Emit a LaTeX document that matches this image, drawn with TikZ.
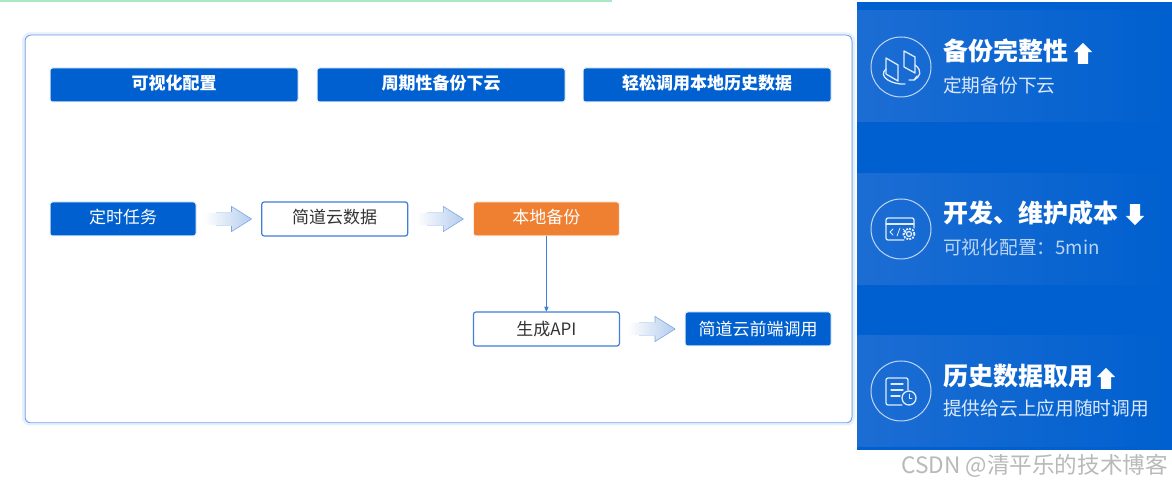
\documentclass[tikz,border=0pt]{standalone}
\usepackage{fontspec}
\setmainfont{Noto Sans CJK SC}
\usetikzlibrary{arrows,shapes.arrows}
\definecolor{mainblue}{HTML}{0060CF}
\definecolor{bandblue}{HTML}{1C6DD3}
\definecolor{framecol}{HTML}{6FA3E6}
\definecolor{glowcol}{HTML}{E6EFFB}
\definecolor{orangecol}{HTML}{EF7F31}
\definecolor{linecol}{HTML}{3F7FD6}
\definecolor{fatcol}{HTML}{B4CDEE}
\definecolor{markcol}{HTML}{B9B9B9}
\definecolor{greencol}{HTML}{A9E8C3}
\definecolor{subcol}{HTML}{DCE9FA}
\newcommand{\pxfont}[1]{\fontsize{#1}{#1}\selectfont}
\begin{document}
\begin{tikzpicture}[x=1pt,y=1pt,>=stealth',node distance=211.7pt,
  box node/.style={rectangle,rounded corners=2.5pt,inner sep=0pt,minimum width=146pt,minimum height=34pt,font=\pxfont{17}},
  blue node/.style={box node,fill=mainblue,text=white,draw=glowcol,line width=1pt},
  white node/.style={box node,fill=white,text=black!80,draw=linecol,line width=1.2pt},
  orange node/.style={box node,fill=orangecol,text=white,draw=orangecol!15,line width=1pt},
  head node/.style={blue node,minimum width=248pt,font=\pxfont{17}\bfseries,text height=14pt,text depth=4pt},
  high text/.style={text height=14pt,text depth=5pt},
  fat arrow/.style={single arrow,inner sep=0pt,minimum height=47pt,text height=6pt,text depth=6pt,
    single arrow head extend=6pt,single arrow tip angle=64,xshift=-6pt,
    left color=white,right color=fatcol},
  title text/.style={anchor=west,inner sep=0pt,text=white,font=\pxfont{25}\bfseries},
  sub text/.style={anchor=west,inner sep=0pt,text=subcol,font=\pxfont{18.7}},
  trend arrow/.style={single arrow,inner sep=0pt,fill=white,minimum height=21pt,text width=10pt,text height=0pt,text depth=0pt,
    single arrow head extend=4pt,single arrow tip angle=90},
  icon/.style={draw=white!88!mainblue,line width=1.3pt,line join=round,line cap=round}]

  \useasboundingbox (0,0) rectangle (1172,486);
  \fill[white] (0,0) rectangle (1172,486);
  \fill[greencol] (0,484) rectangle (612,486);

  % frame on the left
  \node[draw=framecol,line width=1pt,rounded corners=6pt,inner sep=0pt,minimum width=827pt,minimum height=388pt,fill=white] (frame) at (438.5,257) {};
  \draw[glowcol,line width=2pt,rounded corners=7pt] (23,61.5) rectangle (854,452.5);

  \node[head node] (head0) at (174,401) {可视化配置};
  \node[head node] (head1) [right of=head0,node distance=267pt] {周期性备份下云};
  \node[head node] (head2) [right of=head1,node distance=266pt] {轻松调用本地历史数据};

  \node[blue node,high text] (0) at (123,267) {定时任务};
  \node[white node,high text] (1) [right of=0] {简道云数据};
  \node[orange node,high text] (2) [right of=1] {本地备份};
  \node[white node] (3) [below of=2,node distance=110pt] {生成API};
  \node[blue node] (4) [right of=3] {简道云前端调用};

  \path (0) -- (1) node[midway,fat arrow] (fat0) {};
  \path (1) -- (2) node[midway,fat arrow] (fat1) {};
  \path (3) -- (4) node[midway,fat arrow] (fat2) {};
  \foreach \n in {fat0,fat1,fat2} {
    \draw[linecol!70,line width=.6pt,line join=round] (\n.before head) -- (\n.before tip) -- (\n.tip) -- (\n.after tip) -- (\n.after head);
    \draw[linecol!25,line width=.6pt] (\n.before head) -- ++(-16,0) (\n.after head) -- ++(-16,0);
  }
  \draw[->,linecol,line width=.8pt] (2) -- (3);

  % panel on the right
  \fill[mainblue] (857,36) rectangle (1172,484);
  \foreach \y in {364,201,39}
    \fill[left color=bandblue,right color=mainblue] (857,\y) rectangle (1172,\y+111);

  \foreach \y/\n in {419/c0,257/c1,95/c2}
    \node[circle,draw=white!75!mainblue,line width=1pt,minimum size=60pt,inner sep=0pt] (\n) at (901,\y) {};

  \node[title text] (t0) at (943,435) {备份完整性};
  \node[trend arrow,shape border rotate=90] (up0) at (1083,430) {};
  \node[sub text] (s0) at (943,401) {定期备份下云};

  \node[title text] (t1) at (943,273) {开发、维护成本};
  \node[trend arrow,shape border rotate=270] (down1) at (1135,274) {};
  \node[sub text,text=subcol!85!mainblue] (s1) at (943,239) {可视化配置：5min};

  \node[title text] (t2) at (943,110) {历史数据取用};
  \node[trend arrow,shape border rotate=90] (up2) at (1106,105) {};
  \node[sub text] (s2) at (943,78) {提供给云上应用随时调用};

  % icons
  \begin{scope}[shift={(901,419)}]
    \draw[icon] (-15,9) -- (-3,2) -- (-3,-14) -- (-15,-7) -- cycle;
    \draw[icon] (3,16) -- (14,10) -- (14,-6) -- (3,0) -- cycle;
    \draw[icon] (-15,-2) .. controls (-24,-10) and (-8,-18) .. (4,-17);
    \draw[icon] (14,2) .. controls (22,-4) and (19,-10) .. (13,-13);
    \draw[icon] (16,-9) -- (13,-13) -- (8,-13);
  \end{scope}
  \begin{scope}[shift={(901,257)}]
    \draw[icon,rounded corners=2pt] (3,-11) -- (-15,-11) -- (-15,11) -- (13,11) -- (13,1);
    \draw[icon] (-15,5) -- (13,5);
    \draw[icon,line width=.8pt] (-8,-6) -- (-11,-3) -- (-8,0) (-4,-7) -- (-1,1) (2,-6) -- (5,-3) -- (2,0);
    \draw[icon] (8,-5) circle (2.5pt);
    \draw[icon,dash pattern=on 2pt off 1.2pt,line width=1.8pt,line cap=butt] (8,-5) circle (5.5pt);
  \end{scope}
  \begin{scope}[shift={(901,95)}]
    \draw[icon,rounded corners=2pt] (1,-14) -- (-15,-14) -- (-15,13) -- (7,13) -- (7,1);
    \draw[icon] (-10,7) -- (2,7) (-10,1) -- (2,1) (-10,-5) -- (-1,-5);
    \draw[icon] (8,-7) circle (7pt);
    \draw[icon,line width=.9pt] (8,-3) -- (8,-7) -- (11,-7);
  \end{scope}

  \node[anchor=east,inner sep=0pt,text=markcol,font=\pxfont{22.6}] (mark) at (1168,20) {CSDN @清平乐的技术博客};
\end{tikzpicture}
\end{document}
